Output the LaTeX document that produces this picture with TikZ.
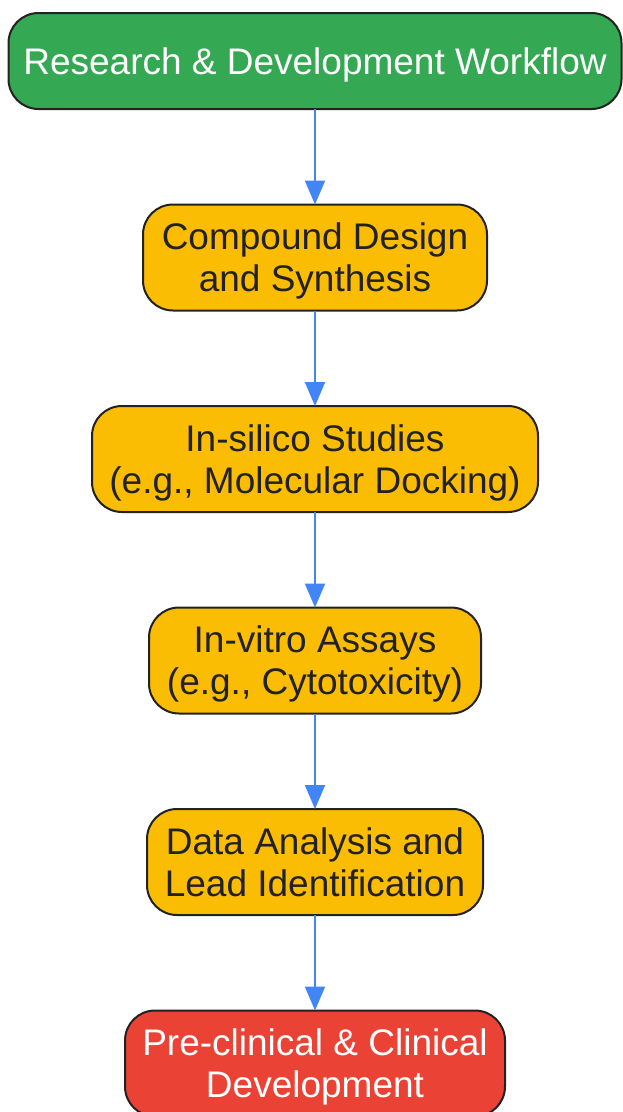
\documentclass[tikz,border=0pt]{standalone}
\usepackage{fontspec}
\setmainfont{Liberation Sans}
\usepackage{xcolor}
\usepackage{tikz}
\usetikzlibrary{arrows.meta,positioning}

\definecolor{rdgreen}{HTML}{34A853}
\definecolor{rdyellow}{HTML}{FBBC04}
\definecolor{rdred}{HTML}{EA4335}
\definecolor{rdblue}{HTML}{4285F4}
\definecolor{rdink}{HTML}{222222}

\begin{document}
\begin{tikzpicture}[x=1pt,y=-1pt, node distance=95.5pt,
        stage/.style={draw=rdink, line width=2pt, rounded corners=30pt, outer sep=0pt,
            fill=rdyellow, text=rdink, align=center, inner xsep=4pt, inner ysep=2pt,
            text depth=0pt, minimum height=106pt, font=\fontsize{37}{42}\selectfont},
        headbox/.style={stage, fill=rdgreen, text=white, minimum height=96pt},
        endbox/.style={stage, fill=rdred, text=white},
        flow/.style={draw=rdblue, line width=2pt, -{Triangle[length=24pt,width=20pt]}}]
        \useasboundingbox (0,0) rectangle (622,1112);
        % boxes
        \node[headbox, minimum width=613pt] (rd) at (315,61) {Research \& Development Workflow};
        \node[stage, minimum width=344pt, below=of rd] (design) {Compound Design\\and Synthesis};
        \node[stage, minimum width=446pt, below=of design] (silico) {In-silico Studies\\(e.g., Molecular Docking)};
        \node[stage, minimum width=332pt, below=of silico] (vitro) {In-vitro Assays\\(e.g., Cytotoxicity)};
        \node[stage, minimum width=336pt, below=of vitro] (lead) {Data Analysis and\\Lead Identification};
        \node[endbox, minimum width=380pt, below=of lead] (clinic) {Pre-clinical \& Clinical\\Development};
        % arrows
        \draw[flow] (rd) -- (design);
        \draw[flow] (design) -- (silico);
        \draw[flow] (silico) -- (vitro);
        \draw[flow] (vitro) -- (lead);
        \draw[flow] (lead) -- (clinic);
    \end{tikzpicture}
\end{document}
